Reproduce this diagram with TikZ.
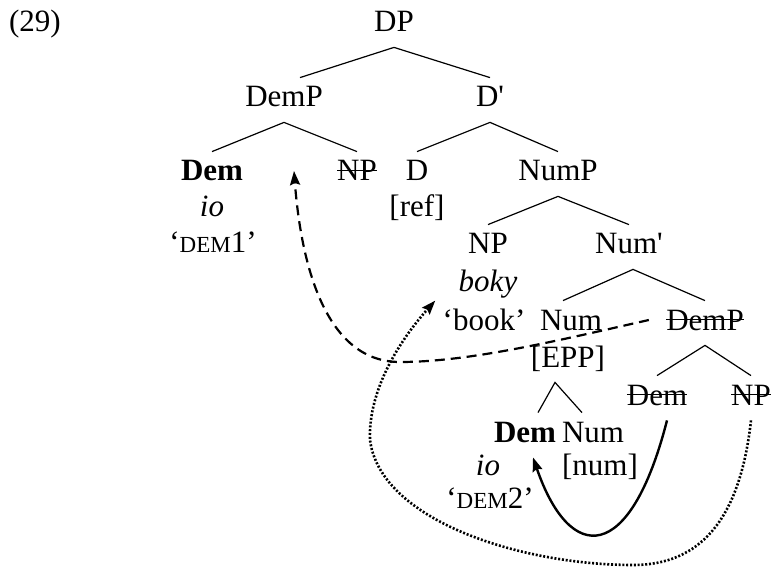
\documentclass[tikz,border=0pt]{standalone}
\usepackage{fontspec}
\setmainfont{Liberation Serif}
\newfontfamily\serifplain{Liberation Serif}
\usetikzlibrary{positioning,arrows.meta}

\newcommand{\strk}[1]{\setbox0\hbox{#1}\rlap{\rule[0.31em]{\wd0}{0.6pt}}\box0}
\newcommand{\smc}[1]{{\fontsize{11.5}{12}\selectfont #1}}
\newcommand{\prm}{{\serifplain'}}

\begin{document}
\begin{tikzpicture}[
      x=0.5pt,y=-0.5pt,
      font=\fontsize{15.5}{18}\selectfont,
      word/.style={anchor=base,inner sep=3.5pt,text height=11pt,text depth=4pt},
      branch/.style={line width=0.6pt},
      move/.style={line width=1.2pt,-{Stealth[length=7pt,width=5pt,inset=1pt]}},
      trace/.style={line width=1.3pt,dash pattern=on 1pt off 0.9pt},
      ]
      \useasboundingbox (0,0) rectangle (772,567);
      \def\la{32}
      \def\lb{107}
      \def\lc{181}
      \def\ld{217}
      \def\le{254}
      \def\lf{330}

      \node[word] (ex) at (35,\la) {(29)};
      \node[word] (dp) at (394,\la) {DP};
      \node[word] (demp) at (284,\lb) {DemP};
      \node[word] (dbar) at (490,\lb) {D\prm};
      \node[word] (dem) at (212,\lc) {\textbf{Dem}};
      \node[word] (io) at (212,\ld) {\textit{io}};
      \node[word] (gloss) at (213,253) {‘\smc{DEM}1’};
      \node[word] (npa) at (357,\lc) {\strk{NP}};
      \node[word] (d) at (417,\lc) {D};
      \node[word] (ref) at (417,\ld) {[ref]};
      \node[word] (nump) at (558,\lc) {NumP};
      \node[word] (np) at (488,\le) {NP};
      \node[word] (numbar) at (629,\le) {Num\prm};
      \node[word] (boky) at (488,292) {\textit{boky}};
      \node[word] (book) at (484,\lf) {‘book’};
      \node[word] (num) at (571,\lf) {Num};
      \node[word] (dempl) at (705,\lf) {\strk{DemP}};
      \node[word] (epp) at (568,367) {[EPP]};
      \node[word] (deml) at (657,405) {\strk{Dem}};
      \node[word] (npl) at (751,405) {\strk{NP}};
      \node[word] (demb) at (525,442) {\textbf{Dem}};
      \node[word] (numl) at (593,442) {Num};
      \node[word] (iob) at (488,475) {\textit{io}};
      \node[word] (numf) at (600,475) {[num]};
      \node[word] (glossb) at (490,508) {‘\smc{DEM}2’};
      \coordinate (landing) at (294,171);

      \draw[branch] ([xshift=8pt]demp.north) -- (dp.south) -- (dbar.north);
      \draw[branch] (dem.north) -- (demp.south) -- (npa.north);
      \draw[branch] (d.north) -- (dbar.south) -- (nump.north);
      \draw[branch] (np.north) -- (nump.south) -- (numbar.north);
      \draw[branch] ([xshift=-4pt]num.north) -- ([xshift=2pt]numbar.south) -- (dempl.north);
      \draw[branch] (deml.north) -- (dempl.south) -- (npl.north);
      \draw[branch] ([xshift=6.5pt]demb.north) -- ([xshift=-6.5pt]epp.south) -- ([xshift=-5.5pt]numl.north);

      \draw[move,line width=1.1pt,dash pattern=on 5pt off 3pt] ([xshift=-5pt,yshift=1.5pt]dempl.west)
        .. controls (560,340) and (470,362) .. (400,362)
        .. controls (320,362) and (300,250) .. (landing);
      \draw[move] ([xshift=5pt]deml.south) .. controls (630,565) and (570,565) .. ([xshift=4pt]demb.south);
      \draw[move,trace] (npl.south)
        .. controls (740,520) and (700,565) .. (633,565)
        .. controls (520,565) and (380,520) .. (370,440)
        .. controls (368,390) and (400,340) .. (book.north west);
    \end{tikzpicture}
\end{document}
